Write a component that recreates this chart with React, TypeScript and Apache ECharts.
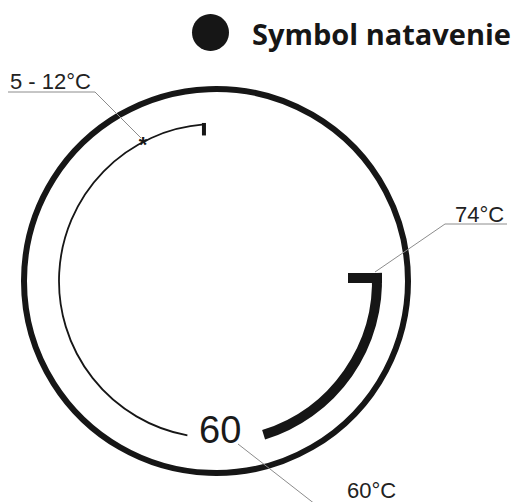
import React, { useEffect, useRef } from "react";
import * as echarts from "echarts";

// Texts of the drawing
const titleText = "Symbol natavenie";
const tempLabels = ["5 - 12°C", "74°C", "60°C"];
const dialMark = "60";
const starMark = "*";

// Dial geometry values (degrees, screen orientation)
const thinArcDeg = [100.5, 265.6];
const thickArcDeg = [-2.85, 72.8];

const rad = (d: number) => (d * Math.PI) / 180;

export default function App() {
  const ref = useRef<HTMLDivElement>(null);
  useEffect(() => {
    const chart = echarts.init(ref.current!, null, { renderer: "svg" });
    const cx = 216;
    const cy = 281;
    const ink = "#161616";
    const grey = "#8c8c8c";
    const labelFont = '22px "Liberation Sans", Arial, sans-serif';
    const thinEnd = { x: cx + 157 * Math.cos(rad(thinArcDeg[1])), y: cy + 157 * Math.sin(rad(thinArcDeg[1])) };
    chart.setOption({
      animation: false,
      graphic: [
        // title
        { type: "circle", shape: { cx: 210.5, cy: 32.5, r: 18.5 }, style: { fill: ink } },
        {
          type: "text",
          style: {
            x: 252, y: 33, text: titleText, fill: ink,
            font: 'bold 29px "Open Sans", sans-serif',
            textAlign: "left", textVerticalAlign: "middle",
          },
        },
        // outer ring
        { type: "circle", shape: { cx, cy, r: 192 }, style: { fill: "none", stroke: ink, lineWidth: 6 } },
        // thin arc
        {
          type: "arc",
          shape: { cx, cy, r: 157, startAngle: rad(thinArcDeg[0]), endAngle: rad(thinArcDeg[1]), clockwise: true },
          style: { fill: "none", stroke: ink, lineWidth: 1.8, lineCap: "butt" },
        },
        {
          type: "line",
          shape: { x1: thinEnd.x, y1: thinEnd.y - 1.5, x2: thinEnd.x, y2: thinEnd.y + 11 },
          style: { stroke: ink, lineWidth: 4 },
        },
        // thick arc
        {
          type: "arc",
          shape: { cx, cy, r: 161, startAngle: rad(thickArcDeg[0]), endAngle: rad(thickArcDeg[1]), clockwise: true },
          style: { fill: "none", stroke: ink, lineWidth: 10, lineCap: "butt" },
        },
        { type: "rect", shape: { x: 348, y: 273, width: 34, height: 10 }, style: { fill: ink } },
        // asterisk on the thin arc
        {
          type: "text",
          style: { x: 143, y: 144, text: starMark, fill: ink, font: 'bold 22px "Liberation Sans", Arial', textAlign: "center", textVerticalAlign: "middle" },
        },
        // leader lines
        { type: "polyline", shape: { points: [[8, 92], [95, 92], [141, 138]] }, style: { fill: "none", stroke: grey, lineWidth: 1 } },
        { type: "polyline", shape: { points: [[507, 224], [445, 224], [375, 272]] }, style: { fill: "none", stroke: grey, lineWidth: 1 } },
        { type: "line", shape: { x1: 238, y1: 444, x2: 320, y2: 508 }, style: { stroke: grey, lineWidth: 1 } },
        // labels
        {
          type: "text",
          style: { x: 10, y: 81, text: tempLabels[0], fill: "#222", font: labelFont, textAlign: "left", textVerticalAlign: "middle" },
        },
        {
          type: "text",
          style: { x: 455, y: 214, text: tempLabels[1], fill: "#222", font: labelFont, textAlign: "left", textVerticalAlign: "middle" },
        },
        {
          type: "text",
          style: { x: 347, y: 490, text: tempLabels[2], fill: "#222", font: labelFont, textAlign: "left", textVerticalAlign: "middle" },
        },
        {
          type: "text",
          style: { x: 199, y: 430, text: dialMark, fill: "#1a1a1a", font: '38px "Liberation Sans", Arial, sans-serif', textAlign: "left", textVerticalAlign: "middle" },
        },
      ],
    });
    return () => chart.dispose();
  }, []);
  return <div ref={ref} style={{ position: "fixed", left: 0, top: 0, width: 520, height: 502, background: "#fff" }} />;
}
